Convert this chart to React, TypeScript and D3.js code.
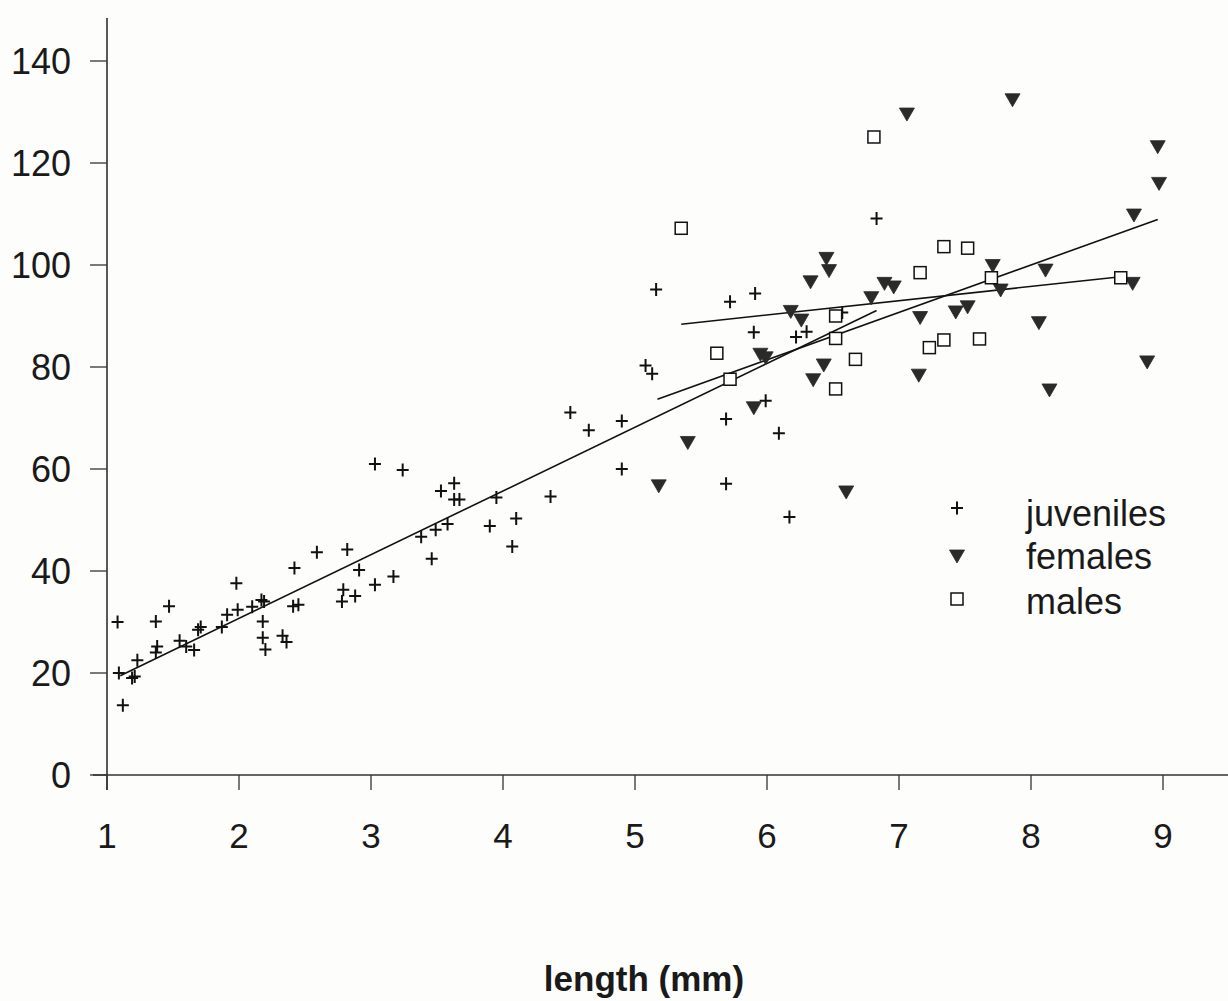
import React from "react";
import * as d3 from "d3";

const juveniles: [number, number][] = [
  [1.08, 30], [1.09, 20], [1.12, 13.7], [1.19, 19], [1.21, 19.3], [1.23, 22.5],
  [1.37, 30.1], [1.38, 25.2], [1.37, 24], [1.47, 33.1], [1.55, 26.3], [1.6, 25.2],
  [1.66, 24.5], [1.69, 28.5], [1.71, 29], [1.87, 29], [1.91, 31.4], [1.98, 37.6],
  [1.99, 32.4], [2.1, 33], [2.17, 34.3], [2.19, 34], [2.18, 30.1], [2.18, 26.9],
  [2.2, 24.6], [2.33, 27.3], [2.36, 26.1], [2.42, 40.6], [2.41, 33.1], [2.45, 33.4],
  [2.59, 43.7], [2.82, 44.2], [2.91, 40.2], [2.79, 36.3], [2.78, 34], [2.88, 35.1],
  [3.03, 37.3], [3.17, 38.9], [3.03, 61], [3.24, 59.8], [3.46, 42.4], [3.38, 46.7],
  [3.49, 48.1], [3.58, 49.2], [3.53, 55.7], [3.63, 57.2], [3.63, 54], [3.67, 54],
  [3.9, 48.8], [3.95, 54.4], [4.1, 50.3], [4.07, 44.8], [4.36, 54.6], [4.51, 71.1],
  [4.65, 67.6], [4.9, 69.4], [4.9, 60], [5.08, 80.3], [5.13, 78.7], [5.16, 95.2],
  [5.69, 69.8], [5.69, 57.1], [5.72, 92.8], [5.91, 94.4], [5.9, 86.8], [5.99, 73.4],
  [6.09, 67], [6.17, 50.6], [6.22, 85.9], [6.3, 86.9], [6.57, 90.7], [6.83, 109.1],
];

const females: [number, number][] = [
  [5.18, 56.7], [5.4, 65.2], [5.9, 72], [5.95, 82.5], [5.99, 81.8], [6.18, 90.9],
  [6.26, 89.2], [6.33, 96.7], [6.35, 77.5], [6.43, 80.4], [6.45, 101.3], [6.47, 98.9],
  [6.6, 55.5], [6.79, 93.6], [6.89, 96.4], [6.96, 95.7], [7.06, 129.6], [7.15, 78.4],
  [7.16, 89.7], [7.43, 90.8], [7.52, 91.8], [7.71, 99.9], [7.77, 95.1], [7.86, 132.4],
  [8.06, 88.7], [8.11, 99], [8.14, 75.5], [8.77, 96.4], [8.78, 109.8], [8.88, 81],
  [8.96, 123.2], [8.97, 116],
];

const males: [number, number][] = [
  [5.35, 107.2], [5.62, 82.7], [5.72, 77.6], [6.52, 90], [6.52, 85.6], [6.52, 75.7],
  [6.67, 81.5], [6.81, 125.1], [7.16, 98.5], [7.23, 83.8], [7.34, 85.3], [7.34, 103.6],
  [7.52, 103.3], [7.61, 85.5], [7.7, 97.5], [8.68, 97.5],
];

// regression lines: [xStart, xEnd, intercept, slope]
const fitJuveniles = [1.1, 6.83, 5.7, 12.5];
const fitFemales = [5.17, 8.96, 25.6, 9.3];
const fitMales = [5.35, 8.68, 73.4, 2.8];

const xTicks = [1, 2, 3, 4, 5, 6, 7, 8, 9];
const yTicks = [0, 20, 40, 60, 80, 100, 120, 140];
const legendLabels = ["juveniles", "females", "males"];
const xTitle = "length (mm)";

const FONT = "'Liberation Sans', Arial, sans-serif";
const NARROW = "'Liberation Sans Narrow', 'Liberation Sans', Arial, sans-serif";

export default function App() {
  const x = d3.scaleLinear().domain([1, 9]).range([107, 1163]);
  const y = d3.scaleLinear().domain([0, 140]).range([775, 61]);
  const line = d3.line<[number, number]>().x((d) => x(d[0])).y((d) => y(d[1]));

  const fitPath = (f: number[]) =>
    line([
      [f[0], f[2] + f[3] * f[0]],
      [f[1], f[2] + f[3] * f[1]],
    ]) || "";

  const plus = (cx: number, cy: number, k: string) => (
    <path key={k} d={`M${cx - 6},${cy}H${cx + 6}M${cx},${cy - 6.5}V${cy + 6.5}`} stroke="#111" strokeWidth={2} fill="none" />
  );
  const tri = (cx: number, cy: number, k: string) => (
    <path key={k} d={`M${cx - 7.5},${cy - 6}L${cx + 7.5},${cy - 6}L${cx},${cy + 7}Z`} fill="#2a2a2a" stroke="#2a2a2a" strokeWidth={0.8} />
  );
  const sq = (cx: number, cy: number, k: string) => (
    <rect key={k} x={cx - 6} y={cy - 6} width={12} height={12} fill="#fff" stroke="#111" strokeWidth={1.5} />
  );

  return (
    <div style={{ position: "absolute", left: 0, top: 0, width: 1228, height: 1001 }}>
      <svg width={1228} height={1001} style={{ display: "block", background: "#fdfdfb" }}>
        {/* axes */}
        <line x1={107} x2={107} y1={18} y2={790} stroke="#222" strokeWidth={1.5} />
        <line x1={93} x2={1228} y1={775} y2={775} stroke="#333" strokeWidth={1.5} />
        {yTicks.map((t) => (
          <g key={"y" + t}>
            <line x1={90} x2={107} y1={y(t)} y2={y(t)} stroke="#333" strokeWidth={1.3} />
            <text x={71} y={y(t) + 12.5} textAnchor="end" fontFamily={FONT} fontSize={36} fill="#1a1a1a">
              {t}
            </text>
          </g>
        ))}
        {xTicks.map((t) => (
          <g key={"x" + t}>
            <line x1={x(t)} x2={x(t)} y1={775} y2={790} stroke="#333" strokeWidth={1.3} />
            <text x={x(t)} y={848} textAnchor="middle" fontFamily={NARROW} fontSize={35} fill="#1a1a1a">
              {t}
            </text>
          </g>
        ))}
        <text x={644} y={991} textAnchor="middle" fontFamily={FONT} fontSize={35} fontWeight="bold" fill="#1a1a1a">
          {xTitle}
        </text>

        {/* fit lines */}
        <path d={fitPath(fitJuveniles)} stroke="#111" strokeWidth={1.6} fill="none" />
        <path d={fitPath(fitFemales)} stroke="#111" strokeWidth={1.6} fill="none" />
        <path d={fitPath(fitMales)} stroke="#111" strokeWidth={1.6} fill="none" />

        {/* points */}
        {juveniles.map((d, i) => plus(x(d[0]), y(d[1]), "j" + i))}
        {females.map((d, i) => tri(x(d[0]), y(d[1]), "f" + i))}
        {males.map((d, i) => sq(x(d[0]), y(d[1]), "m" + i))}

        {/* legend */}
        {plus(957, 508, "lj")}
        {tri(957, 556, "lf")}
        {sq(957, 599, "lm")}
        {legendLabels.map((l, i) => (
          <text key={l} x={1026} y={[526, 569, 614][i]} fontFamily={FONT} fontSize={36} fill="#1a1a1a">
            {l}
          </text>
        ))}
      </svg>
    </div>
  );
}
